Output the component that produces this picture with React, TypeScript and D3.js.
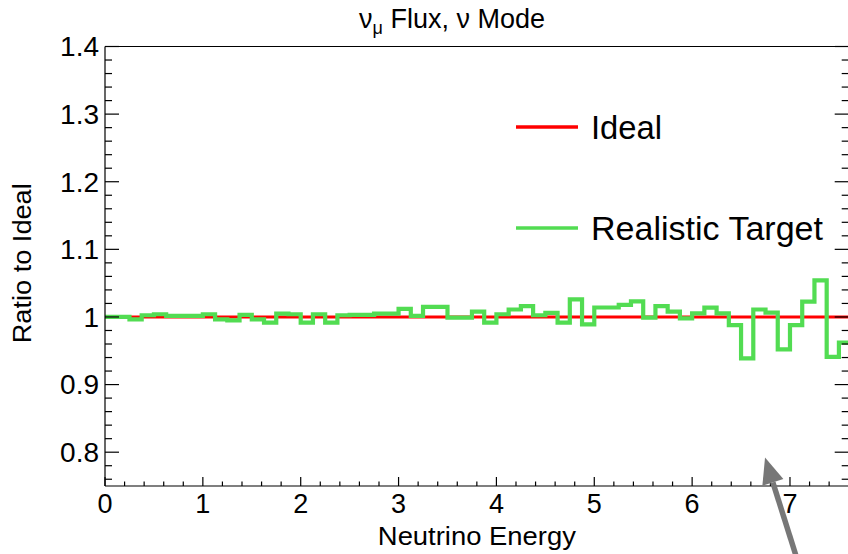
import React from "react";
import * as d3 from "d3";

const binWidth = 0.125;
const realistic = [
  1.0, 1.0, 0.9965, 1.0025, 1.004, 1.0015, 1.0015, 1.0015,
  1.004, 0.9965, 0.995, 1.003, 0.9965, 0.9916, 1.005, 1.004,
  0.9916, 1.004, 0.9916, 1.0025, 1.003, 1.003, 1.005, 1.005,
  1.012, 1.0015, 1.0148, 1.0148, 0.999, 0.999, 1.008, 0.9916,
  1.004, 1.011, 1.016, 1.0025, 1.006, 0.9916, 1.026, 0.989,
  1.014, 1.014, 1.018, 1.023, 0.999, 1.016, 1.008, 0.998,
  1.0054, 1.0138, 1.0054, 0.988, 0.9388, 1.011, 1.0064, 0.952,
  0.988, 1.0227, 1.054, 0.941, 0.962,
];
const idealValue = 1.0;
const xTicks = [0, 1, 2, 3, 4, 5, 6, 7];
const yTicks = [0.8, 0.9, 1.0, 1.1, 1.2, 1.3, 1.4];
const yTickLabels = ["0.8", "0.9", "1", "1.1", "1.2", "1.3", "1.4"];
const legendLabels = ["Ideal", "Realistic Target"];
const arrowFrom = [7.07, 0.643];
const arrowTo = [6.745, 0.792];

const W = 848, H = 554;
const left = 105, right = 848.7, top = 46.5, bottom = 486;
const FONT = "'Liberation Sans', Arial, Helvetica, sans-serif";
const RED = "#ff0000";
const GREEN = "#52dc52";

export default function App() {
  const x = d3.scaleLinear().domain([0, 7.6]).range([left, right]);
  const y = d3.scaleLinear().domain([0.75, 1.4]).range([bottom, top]);

  const pts: [number, number][] = [];
  realistic.forEach((v, i) => {
    pts.push([i * binWidth, v]);
    pts.push([(i + 1) * binWidth, v]);
  });
  const line = d3.line<[number, number]>().x(d => x(d[0])).y(d => y(d[1]));

  const yMinor = d3.range(0, 33).map(i => 0.76 + i * 0.02).filter(v => v <= 1.4001);
  const xMinor = d3.range(0, 39).map(i => i * 0.2).filter(v => v <= 7.6001);

  const isMajorY = (v: number) => Math.abs(v * 10 - Math.round(v * 10)) < 1e-6;
  const isMajorX = (v: number) => Math.abs(v - Math.round(v)) < 1e-6;

  const ax1 = x(arrowFrom[0]), ay1 = y(arrowFrom[1]);
  const ax2 = x(arrowTo[0]), ay2 = y(arrowTo[1]);
  const ang = Math.atan2(ay2 - ay1, ax2 - ax1);
  const headLen = 26, headW = 11;
  const bx = ax2 - headLen * Math.cos(ang), by = ay2 - headLen * Math.sin(ang);
  const px = -Math.sin(ang), py = Math.cos(ang);

  return (
    <svg width={W} height={H} style={{ position: "absolute", left: 0, top: 0, background: "#fff" }} fontFamily={FONT}>
      <defs>
        <clipPath id="plotclip">
          <rect x={left} y={top} width={right - left} height={bottom - top} />
        </clipPath>
      </defs>
      <rect x={0} y={0} width={W} height={H} fill="#fff" />

      <text x={452} y={28} textAnchor="middle" fontSize={27} fill="#000">
        ν<tspan dy={6} fontSize={18}>μ</tspan>
        <tspan dy={-6}> Flux, ν Mode</tspan>
      </text>

      <g clipPath="url(#plotclip)">
        <line x1={x(0)} x2={x(7.6)} y1={y(idealValue)} y2={y(idealValue)} stroke={RED} strokeWidth={3} />
        <path d={line(pts) || ""} fill="none" stroke={GREEN} strokeWidth={4.2} strokeLinejoin="miter" />
      </g>

      <line x1={left} x2={left} y1={top} y2={bottom} stroke="#000" strokeWidth={1.2} />
      <line x1={left} x2={right} y1={bottom} y2={bottom} stroke="#000" strokeWidth={1.2} />
      <line x1={left} x2={right} y1={top} y2={top} stroke="#000" strokeWidth={1.2} />
      <line x1={right} x2={right} y1={top} y2={bottom} stroke="#000" strokeWidth={1.2} />

      {yMinor.map((v, i) => {
        const len = isMajorY(v) ? 14 : 7;
        return (
          <g key={"yt" + i}>
            <line x1={left} x2={left + len} y1={y(v)} y2={y(v)} stroke="#000" strokeWidth={1.2} />
            <line x1={right} x2={right - len} y1={y(v)} y2={y(v)} stroke="#000" strokeWidth={1.2} />
          </g>
        );
      })}
      {xMinor.map((v, i) => {
        const len = isMajorX(v) ? 9 : 4.5;
        return <line key={"xt" + i} x1={x(v)} x2={x(v)} y1={bottom} y2={bottom - len} stroke="#000" strokeWidth={1.2} />;
      })}

      {yTicks.map((v, i) => (
        <text key={"yl" + i} x={99} y={y(v)} dy="0.35em" textAnchor="end" fontSize={28} fill="#000">
          {yTickLabels[i]}
        </text>
      ))}
      {xTicks.map((v, i) => (
        <text key={"xl" + i} x={x(v)} y={513} textAnchor="middle" fontSize={27} fill="#000">
          {String(v)}
        </text>
      ))}

      <text x={(left + right) / 2} y={545} textAnchor="middle" fontSize={26} textLength={198} lengthAdjust="spacingAndGlyphs" fill="#000">Neutrino Energy</text>
      <text transform={`translate(31,${(top + bottom) / 2 - 3}) rotate(-90)`} textAnchor="middle" fontSize={26} textLength={160} lengthAdjust="spacingAndGlyphs" fill="#000">Ratio to Ideal</text>

      <line x1={516} x2={578} y1={127} y2={127} stroke={RED} strokeWidth={3.5} />
      <text x={591} y={127} dy="0.36em" fontSize={33} textLength={71} lengthAdjust="spacingAndGlyphs" fill="#000">{legendLabels[0]}</text>
      <line x1={516} x2={578} y1={228} y2={228} stroke={GREEN} strokeWidth={3.5} />
      <text x={591} y={228} dy="0.36em" fontSize={33} textLength={232} lengthAdjust="spacingAndGlyphs" fill="#000">{legendLabels[1]}</text>

      <line x1={ax1} y1={ay1} x2={bx} y2={by} stroke="#777" strokeWidth={5.5} />
      <polygon
        points={`${ax2},${ay2} ${bx + px * headW},${by + py * headW} ${bx - px * headW},${by - py * headW}`}
        fill="#777"
      />
    </svg>
  );
}
